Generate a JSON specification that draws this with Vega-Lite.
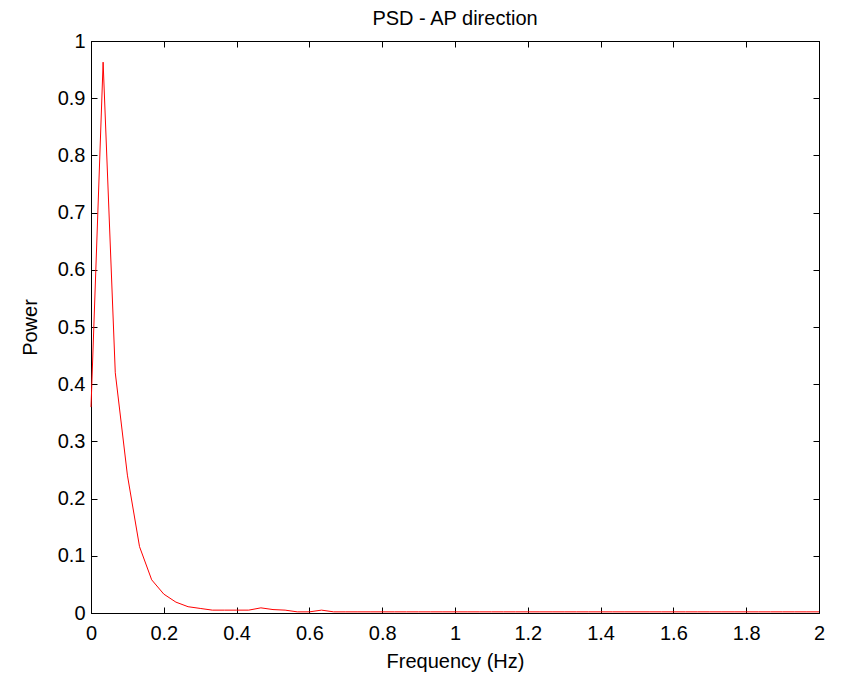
{
"$schema": "https://vega.github.io/schema/vega-lite/v6.json",
"width": 728,
"height": 572,
"autosize": "none",
"padding": {"left": 91, "top": 41, "right": 22, "bottom": 63},
"background": "white",
"config": {
  "view": {"stroke": "black", "strokeWidth": 1},
  "axis": {"labelFont": "Liberation Sans", "titleFont": "Liberation Sans", "labelFontSize": 20, "titleFontSize": 20, "labelColor": "black", "titleColor": "black", "titleFontWeight": "normal", "domainColor": "black", "tickColor": "black", "grid": false, "tickSize": -6, "labelFlush": false, "labelOverlap": false}
},
"title": {"text": "PSD - AP direction", "font": "Liberation Sans", "fontSize": 20, "fontWeight": "normal", "color": "black", "offset": 2},
"data": {"values": [
{"freq": 0, "power": 0.36},
{"freq": 0.0333, "power": 0.963},
{"freq": 0.0667, "power": 0.42},
{"freq": 0.1, "power": 0.241},
{"freq": 0.1333, "power": 0.116},
{"freq": 0.1667, "power": 0.058},
{"freq": 0.2, "power": 0.033},
{"freq": 0.2333, "power": 0.019},
{"freq": 0.2667, "power": 0.011},
{"freq": 0.3, "power": 0.008},
{"freq": 0.3333, "power": 0.005},
{"freq": 0.3667, "power": 0.005},
{"freq": 0.4, "power": 0.005},
{"freq": 0.4333, "power": 0.005},
{"freq": 0.4667, "power": 0.009},
{"freq": 0.5, "power": 0.006},
{"freq": 0.5333, "power": 0.005},
{"freq": 0.5667, "power": 0.002},
{"freq": 0.6, "power": 0.002},
{"freq": 0.6333, "power": 0.005},
{"freq": 0.6667, "power": 0.002},
{"freq": 0.7, "power": 0.002},
{"freq": 0.7333, "power": 0.002},
{"freq": 0.7667, "power": 0.002},
{"freq": 0.8, "power": 0.002},
{"freq": 0.8333, "power": 0.002},
{"freq": 0.8667, "power": 0.002},
{"freq": 0.9, "power": 0.002},
{"freq": 0.9333, "power": 0.002},
{"freq": 0.9667, "power": 0.002},
{"freq": 1.0, "power": 0.002},
{"freq": 1.0333, "power": 0.002},
{"freq": 1.0667, "power": 0.002},
{"freq": 1.1, "power": 0.002},
{"freq": 1.1333, "power": 0.002},
{"freq": 1.1667, "power": 0.002},
{"freq": 1.2, "power": 0.002},
{"freq": 1.2333, "power": 0.002},
{"freq": 1.2667, "power": 0.002},
{"freq": 1.3, "power": 0.002},
{"freq": 1.3333, "power": 0.002},
{"freq": 1.3667, "power": 0.002},
{"freq": 1.4, "power": 0.002},
{"freq": 1.4333, "power": 0.002},
{"freq": 1.4667, "power": 0.002},
{"freq": 1.5, "power": 0.002},
{"freq": 1.5333, "power": 0.002},
{"freq": 1.5667, "power": 0.002},
{"freq": 1.6, "power": 0.002},
{"freq": 1.6333, "power": 0.002},
{"freq": 1.6667, "power": 0.002},
{"freq": 1.7, "power": 0.002},
{"freq": 1.7333, "power": 0.002},
{"freq": 1.7667, "power": 0.002},
{"freq": 1.8, "power": 0.002},
{"freq": 1.8333, "power": 0.002},
{"freq": 1.8667, "power": 0.002},
{"freq": 1.9, "power": 0.002},
{"freq": 1.9333, "power": 0.002},
{"freq": 1.9667, "power": 0.002},
{"freq": 2.0, "power": 0.002}
]},
"layer": [
  {
    "mark": {"type": "line", "color": "red", "strokeWidth": 1},
    "encoding": {
      "x": {"field": "freq", "type": "quantitative", "scale": {"domain": [0, 2], "nice": false},
            "axis": {"orient": "bottom", "values": [0, 0.2, 0.4, 0.6, 0.8, 1, 1.2, 1.4, 1.6, 1.8, 2], "format": "~g", "title": "Frequency (Hz)", "labelPadding": 16, "titlePadding": 8}},
      "y": {"field": "power", "type": "quantitative", "scale": {"domain": [0, 1], "nice": false},
            "axis": {"orient": "left", "values": [0, 0.1, 0.2, 0.3, 0.4, 0.5, 0.6, 0.7, 0.8, 0.9, 1], "format": "~g", "title": "Power", "labelPadding": 12, "titlePadding": 17}}
    }
  },
  {
    "mark": {"type": "line", "opacity": 0},
    "encoding": {
      "x": {"field": "freq", "type": "quantitative", "axis": {"orient": "top", "values": [0, 0.2, 0.4, 0.6, 0.8, 1, 1.2, 1.4, 1.6, 1.8, 2], "labels": false, "title": null}},
      "y": {"field": "power", "type": "quantitative", "axis": {"orient": "right", "values": [0, 0.1, 0.2, 0.3, 0.4, 0.5, 0.6, 0.7, 0.8, 0.9, 1], "labels": false, "title": null}}
    }
  }
],
"resolve": {"axis": {"x": "independent", "y": "independent"}}
}
